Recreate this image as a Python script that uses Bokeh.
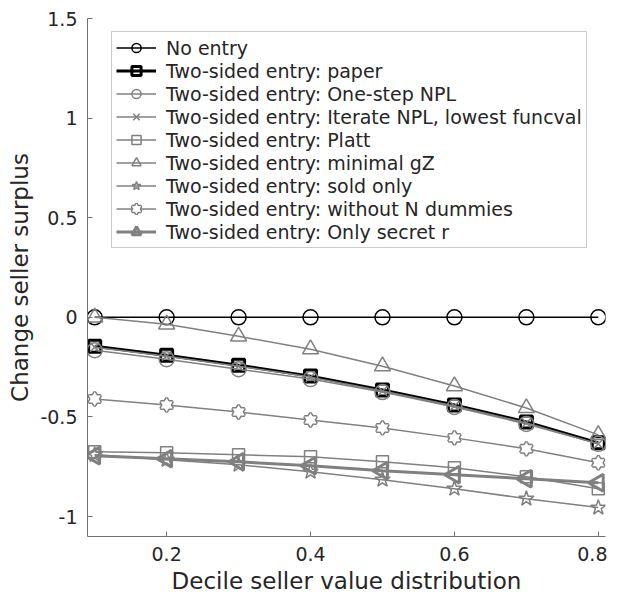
import numpy as np
from bokeh.plotting import figure
from bokeh.models import Range1d, FixedTicker, Legend, LegendItem
from bokeh.embed import file_html
from bokeh.resources import INLINE

# ---- data ----
decile = [0.1, 0.2, 0.3, 0.4, 0.5, 0.6, 0.7, 0.8]
no_entry = [0, 0, 0, 0, 0, 0, 0, 0]
paper = [-0.145, -0.19, -0.24, -0.295, -0.365, -0.44, -0.525, -0.63]
one_step_npl = [-0.165, -0.21, -0.26, -0.31, -0.375, -0.45, -0.535, -0.635]
iterate_npl = [-0.15, -0.195, -0.245, -0.3, -0.37, -0.445, -0.53, -0.635]
platt = [-0.675, -0.68, -0.69, -0.70, -0.725, -0.755, -0.80, -0.86]
minimal_gz = [0.0, -0.035, -0.095, -0.16, -0.245, -0.345, -0.455, -0.59]
sold_only = [-0.69, -0.715, -0.74, -0.775, -0.815, -0.86, -0.91, -0.955]
without_n_dummies = [-0.41, -0.44, -0.475, -0.515, -0.555, -0.605, -0.66, -0.73]
only_secret_r = [-0.695, -0.71, -0.725, -0.745, -0.77, -0.79, -0.81, -0.83]

series_labels = [
    "No entry",
    "Two-sided entry: paper",
    "Two-sided entry: One-step NPL",
    "Two-sided entry: Iterate NPL, lowest funcval",
    "Two-sided entry: Platt",
    "Two-sided entry: minimal gZ",
    "Two-sided entry: sold only",
    "Two-sided entry: without N dummies",
    "Two-sided entry: Only secret r",
]

x_ticks = [0.2, 0.4, 0.6, 0.8]
x_tick_labels = ["0.2", "0.4", "0.6", "0.8"]
y_ticks = [-1, -0.5, 0, 0.5, 1, 1.5]
y_tick_labels = ["-1", "-0.5", "0", "0.5", "1", "1.5"]

FONT = "DejaVu Sans"
TEXT = "#262626"
GRAY = "#808080"
BLACK = "#000000"
AXIS = "#707070"

p = figure(
    frame_width=518, frame_height=518,
    min_border_left=87, min_border_top=18, min_border_right=2, min_border_bottom=10,
    x_range=Range1d(0.09, 0.81), y_range=Range1d(-1.1, 1.5),
    output_backend="svg", toolbar_location=None,
)
p.outline_line_color = None
p.grid.visible = False
p.background_fill_color = "white"
p.border_fill_color = "white"

p.xaxis.ticker = FixedTicker(ticks=x_ticks)
p.xaxis.major_label_overrides = {t: l for t, l in zip(x_ticks, x_tick_labels)}
p.yaxis.ticker = FixedTicker(ticks=y_ticks)
p.yaxis.major_label_overrides = {t: l for t, l in zip(y_ticks, y_tick_labels)}
p.xaxis.axis_label = "Decile seller value distribution"
p.yaxis.axis_label = "Change seller surplus"
for ax in (p.xaxis, p.yaxis):
    ax.axis_line_color = AXIS
    ax.axis_line_width = 1
    ax.major_tick_line_color = AXIS
    ax.major_tick_in = 5
    ax.major_tick_out = 0
    ax.minor_tick_line_color = None
    ax.major_label_text_font = FONT
    ax.major_label_text_font_size = "19px"
    ax.major_label_text_color = TEXT
    ax.axis_label_text_font = FONT
    ax.axis_label_text_font_size = "23px"
    ax.axis_label_text_font_style = "normal"
    ax.axis_label_text_color = TEXT
p.xaxis.major_label_standoff = 10
p.xaxis.axis_label_standoff = 4
p.yaxis.major_label_standoff = 10
p.yaxis.axis_label_standoff = 4


def series(y, color, lw, marker, size, angle=0.0):
    ln = p.line(decile, y, line_color=color, line_width=lw)
    mk = p.scatter(decile, y, marker=marker, size=size, angle=angle,
                   line_color=color, line_width=lw, fill_color=None)
    return [ln, mk]


def hexagram_series(y, color, lw, size):
    ln = p.line(decile, y, line_color=color, line_width=lw)
    t1 = p.scatter(decile, y, marker="triangle", size=size, line_color=color,
                   line_width=lw * 2, fill_color=None)
    t2 = p.scatter(decile, y, marker="inverted_triangle", size=size, line_color=color,
                   line_width=lw * 2, fill_color=None)
    w1 = p.scatter(decile, y, marker="triangle", size=size, line_color=None,
                   fill_color="white")
    w2 = p.scatter(decile, y, marker="inverted_triangle", size=size, line_color=None,
                   fill_color="white")
    return [ln, t1, t2, w1, w2]


renderer_sets = [
    series(no_entry, BLACK, 1.5, "circle", 15),
    series(paper, BLACK, 3, "square", 12),
    series(one_step_npl, GRAY, 1.5, "circle", 15),
    series(iterate_npl, GRAY, 1.5, "x", 13),
    series(platt, GRAY, 1.5, "square", 12),
    series(minimal_gz, GRAY, 1.5, "triangle", 16),
    series(sold_only, GRAY, 1.5, "star", 16),
    hexagram_series(without_n_dummies, GRAY, 1.5, 12),
    series(only_secret_r, GRAY, 3, "triangle", 17, angle=np.pi / 2),
]

legend = Legend(
    items=[LegendItem(label=lab, renderers=rs) for lab, rs in zip(series_labels, renderer_sets)],
    location=(24, 288),
    label_text_font=FONT, label_text_font_size="19px", label_text_color=TEXT,
    glyph_width=40, glyph_height=23, label_height=23, label_standoff=10,
    spacing=0, padding=4, margin=0,
    border_line_color="#999999", border_line_width=1,
    background_fill_color="white", background_fill_alpha=1.0,
)
p.add_layout(legend)

open("out.html", "w").write(file_html(p, INLINE))
